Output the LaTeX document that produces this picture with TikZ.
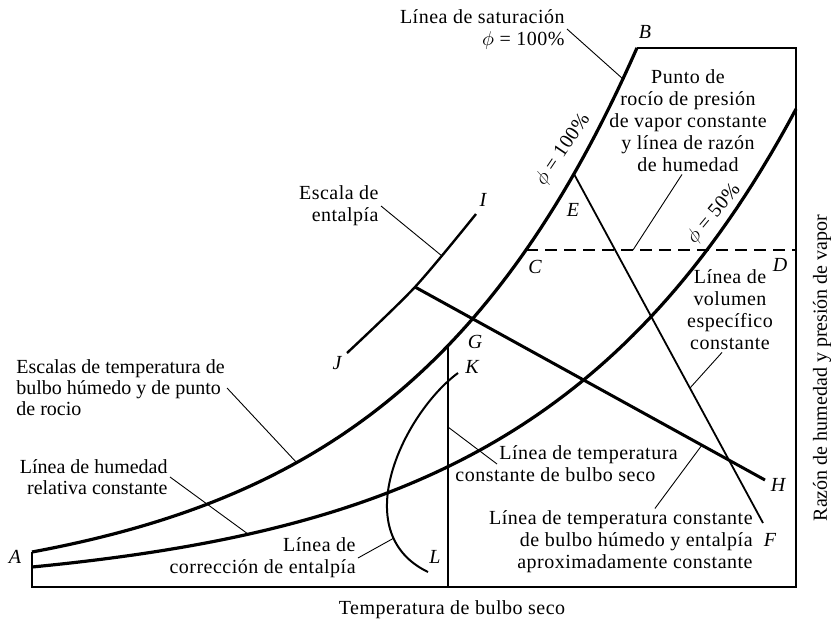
\documentclass[tikz,border=0pt]{standalone}
\usepackage{fontspec}
\setmainfont{Liberation Serif}[LetterSpace=2.5]
\newfontfamily\plainfont{Liberation Serif}

\begin{document}
\begin{tikzpicture}[x=0.5pt, y=-0.5pt,
    lbl/.style={font=\fontsize{10}{11}\selectfont, inner sep=1pt},
    plainlbl/.style={font=\plainfont\fontsize{10}{10.5}\selectfont, inner sep=1pt},
    ptlbl/.style={font=\fontsize{10}{11}\selectfont\itshape, inner sep=0pt},
    curve/.style={line width=1.6pt, line join=round},
    leader/.style={line width=0.45pt}]
    \useasboundingbox (0,0) rectangle (831,622);

    % points of the chart
    \coordinate (A) at (32,552);
    \coordinate (O) at (32,587);
    \coordinate (R) at (796,587);
    \coordinate (T) at (796,48);
    \coordinate (B) at (637,48);
    \coordinate (C) at (526,250);
    \coordinate (D) at (796,250);
    \coordinate (E) at (574,174);
    \coordinate (F) at (763,523);
    \coordinate (G) at (448,346);
    \coordinate (Gb) at (448,587);
    \coordinate (H) at (765,480);
    \coordinate (I) at (476,214);
    \coordinate (J) at (347,353);
    \coordinate (K) at (458,373);
    \coordinate (L) at (428,572);
    \coordinate (GH0) at (415,287);

    % frame
    \draw[line width=1.1pt] (B) -- (T) -- (R) -- (O) -- (A);

    % saturation line (100%) and 50% line
    \draw[curve] plot[domain=32:637, samples=90, variable=\t] (\t, {597-45*exp(0.004134*(\t-32))});
    \draw[curve] plot[domain=32:796, samples=90, variable=\t] (\t, {592-25*exp(0.003873*(\t-32))});

    % enthalpy scale, specific volume and wet bulb lines
    \draw[line width=1.2pt] plot[smooth] coordinates {(347,353) (415,287) (476,214)};
    \draw[line width=1.5pt] (GH0) -- (H);
    \draw[line width=0.9pt] (E) -- (F);
    \draw[line width=0.8pt] (G) -- (Gb);
    \draw[line width=1pt] (K) .. controls (405,412) and (345,532) .. (L);
    \draw[line width=0.8pt, dash pattern=on 6pt off 3.5pt] (C) -- (D);

    % letters
    \foreach \n/\x/\y in {A/15/557, B/645/32, C/535/267, D/780/265, E/573/210, F/770/540,
                          G/475/342, H/778/485, I/483/200, J/337/363, K/472/367, L/435/557} {
        \node[ptlbl] (l\n) at (\x,\y) {\n};
    }

    % labels
    \node[lbl, align=right, anchor=east] (sat) at (567,29) {Línea de saturación\\$\phi$ = 100\%};
    \node[lbl, align=right, anchor=east] (esc) at (381,206) {Escala de\\entalpía};
    \node[lbl, align=center] (punto) at (688,121) {Punto de\\rocío de presión\\de vapor constante\\y línea de razón\\de humedad};
    \node[lbl, align=center] (vol) at (730,310) {Línea de\\volumen\\específico\\constante};
    \node[lbl, align=left, anchor=west] (tdb) at (453,464) {\hspace*{22pt}Línea de temperatura\\constante de bulbo seco};
    \node[lbl, align=right, anchor=east] (tbh) at (755,542) {Línea de temperatura constante\\de bulbo húmedo y entalpía\\aproximadamente constante};
    \node[plainlbl, align=left, anchor=west] (esb) at (14,388) {Escalas de temperatura de\\bulbo húmedo y de punto\\de rocio};
    \node[plainlbl, align=right, anchor=east] (hum) at (170,477) {Línea de humedad\\relativa constante};
    \node[lbl, align=right, anchor=east] (corr) at (358,558) {Línea de\\corrección de entalpía};
    \node[lbl, rotate=56] (phi100) at (563,150) {$\phi$ = 100\%};
    \node[lbl, rotate=50] (phi50) at (714,214) {$\phi$ = 50\%};
    \node[lbl] (xlab) at (452,610) {Temperatura de bulbo seco};
    \node[plainlbl, rotate=90] (ylab) at (822,368) {Razón de humedad y presión de vapor};

    % leaders
    \coordinate (satp) at (623,79);
    \coordinate (escp) at (442,256);
    \coordinate (puntop) at (633,250);
    \coordinate (volp) at (690,388);
    \coordinate (tdbp) at (448,427);
    \coordinate (tbhp) at (702,445);
    \coordinate (esbp) at (297,463);
    \coordinate (hump) at (248,534);
    \coordinate (corrp) at (394,538);
    \draw[leader] (sat.east) -- (satp);
    \draw[leader] (esc.east) -- (escp);
    \draw[leader] ([xshift=-3pt]punto.south) -- (puntop);
    \draw[leader] ([xshift=-4pt]vol.south) -- (volp);
    \draw[leader] (tdbp) -- ([xshift=22pt]tdb.west);
    \draw[leader] ([xshift=17pt]tbh.north) -- (tbhp);
    \draw[leader] (esb.east) -- (esbp);
    \draw[leader] (hum.east) -- (hump);
    \draw[leader] (corr.east) -- (corrp);
\end{tikzpicture}
\end{document}
